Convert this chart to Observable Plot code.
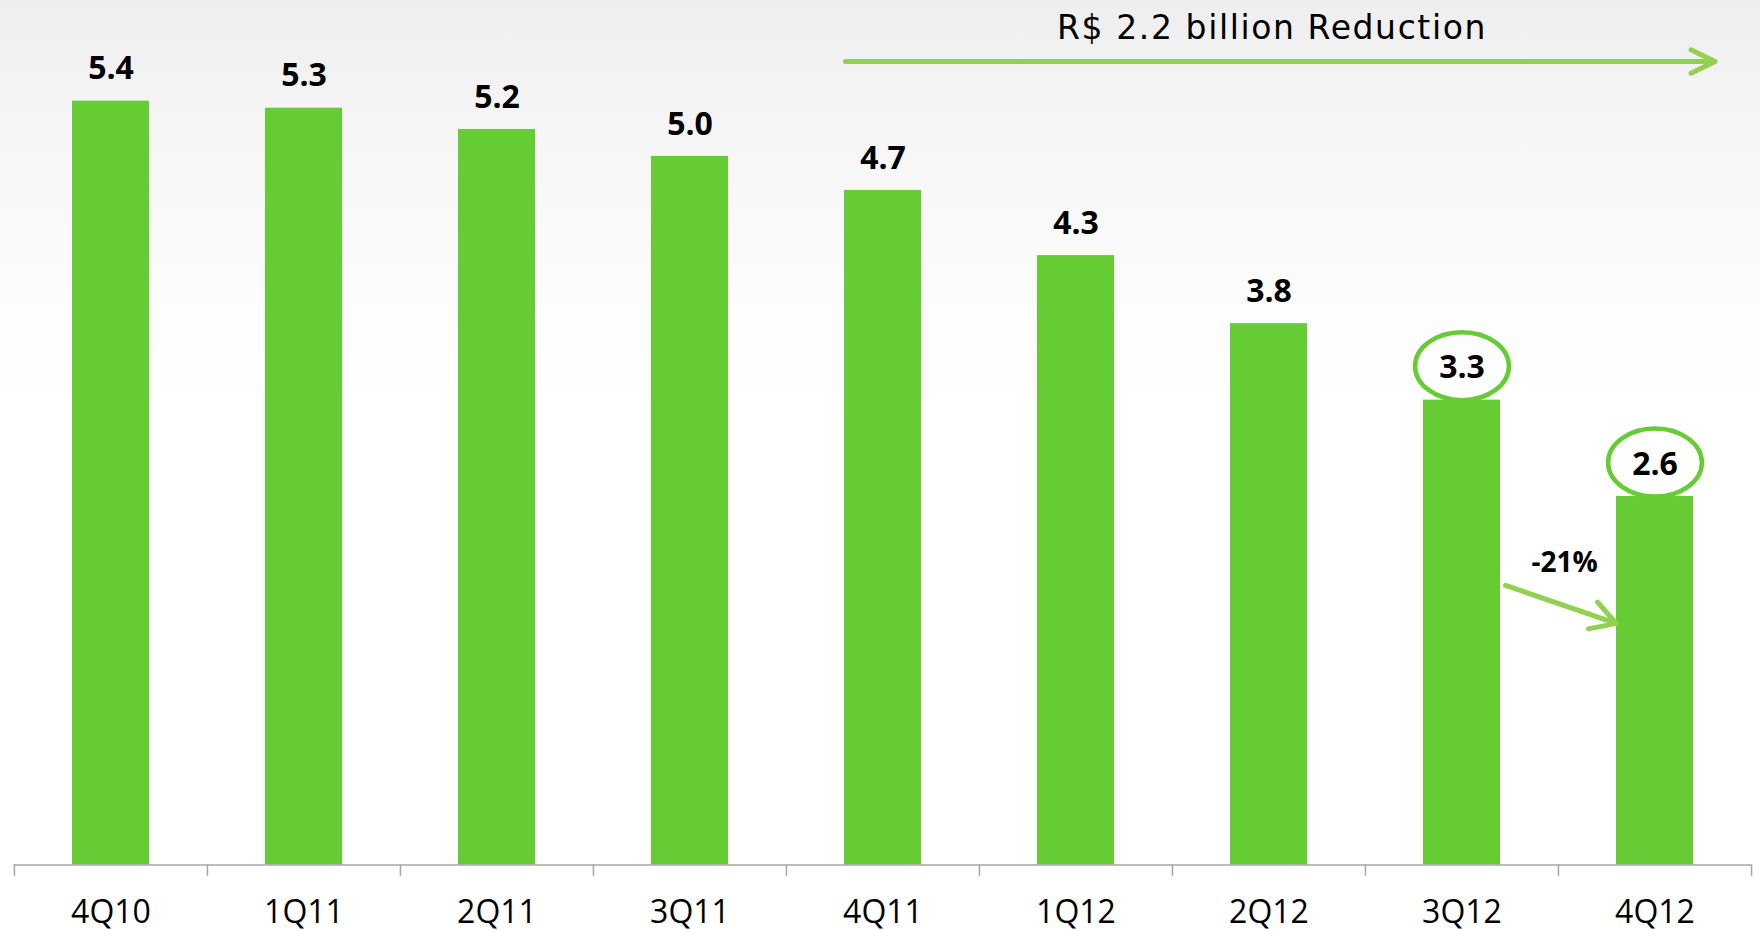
<!DOCTYPE html>
<html><head><meta charset="utf-8">
<script src="https://cdn.jsdelivr.net/npm/d3@7"></script>
<script src="https://cdn.jsdelivr.net/npm/@observablehq/plot@0.6"></script>
<style>
html,body{margin:0;padding:0;width:1760px;height:930px;overflow:hidden;
background:linear-gradient(to bottom,#eeeeee 0px,#f5f5f5 120px,#fdfdfd 330px,#ffffff 420px,#ffffff 100%);}
#chart svg{display:block;background:transparent;}
.reduction-title text{letter-spacing:1.6px;}
</style></head><body><div id="chart"></div>
<script>
// Data
const quarters = ["4Q10","1Q11","2Q11","3Q11","4Q11","1Q12","2Q12","3Q12","4Q12"];
const values = [5.39,5.34,5.19,5.00,4.76,4.30,3.82,3.28,2.60];
const valueLabels = ["5.4","5.3","5.2","5.0","4.7","4.3","3.8","3.3","2.6"];
const highlighted = ["3Q12","4Q12"];
const titleText = "R$ 2.2 billion Reduction";
const changeText = "-21%";

const rows = quarters.map((q, i) => ({q, v: values[i], label: valueLabels[i]}));
const hiRows = rows.filter(d => highlighted.includes(d.q));

const BAR = "#66cc33", ARROW = "#92d050", AXIS = "#a6a6a6";
const FONT = "'Open Sans', sans-serif";

const ellipse = {draw(ctx, size) {
  const ry = Math.sqrt(size / Math.PI), rx = ry * 1.38, k = 0.5523;
  ctx.moveTo(rx, 0);
  ctx.bezierCurveTo(rx, k*ry, k*rx, ry, 0, ry);
  ctx.bezierCurveTo(-k*rx, ry, -rx, k*ry, -rx, 0);
  ctx.bezierCurveTo(-rx, -k*ry, -k*rx, -ry, 0, -ry);
  ctx.bezierCurveTo(k*rx, -ry, rx, -k*ry, rx, 0);
  ctx.closePath();
}};

const W = 1760, H = 930, ML = 13.5, MR = 8.5;
const step = (W - ML - MR) / quarters.length;

const chart = Plot.plot({
  width: W, height: H,
  marginLeft: ML, marginRight: MR, marginTop: 0, marginBottom: 65.5,
  style: {fontFamily: FONT, background: "transparent", overflow: "visible"},
  x: {type: "band", domain: quarters, paddingInner: 0.6, paddingOuter: 0.3, axis: null},
  y: {domain: [0, 6.1], axis: null},
  marks: [
    Plot.barY(rows, {x: "q", y: "v", fill: BAR}),
    Plot.ruleY([0], {stroke: AXIS, strokeWidth: 1.5}),
    Plot.ruleX(quarters, {x: d => d, y1: 0, y2: -0.08, dx: -step/2, stroke: AXIS, strokeWidth: 1.5}),
    Plot.ruleX([quarters[quarters.length-1]], {x: d => d, y1: 0, y2: -0.08, dx: step/2, stroke: AXIS, strokeWidth: 1.5}),
    Plot.text(quarters, {x: d => d, y: 0, dy: 48, text: d => d, fontSize: 32, fill: "#000"}),
    Plot.text(rows, {x: "q", y: "v", text: "label", dy: -32, fontSize: 32, fontWeight: "bold", fill: "#000"}),
    Plot.dot(hiRows, {x: "q", y: "v", dy: -34, r: 34, symbol: ellipse, stroke: BAR, strokeWidth: 4.5, fill: "none"}),
    Plot.arrow([{x1: "4Q11", x2: "4Q12", y: 5.67}], {x1: "x1", x2: "x2", y1: "y", y2: "y",
      insetStart: -37.5, insetEnd: -60, stroke: ARROW, strokeWidth: 5, headLength: 8, headAngle: 52,
      strokeLinecap: "round", strokeLinejoin: "round"}),
    Plot.text([titleText], {x: () => "2Q12", y: () => 5.9, dx: 3, text: d => d, fontSize: 33,
      fontFamily: "'DejaVu Sans', sans-serif", fill: "#000", className: "reduction-title"}),
    Plot.arrow([{x1: "3Q12", y1: 2.078, x2: "4Q12", y2: 1.611}], {x1: "x1", y1: "y1", x2: "x2", y2: "y2",
      insetStart: 46, insetEnd: 41, stroke: ARROW, strokeWidth: 5, headLength: 8.5, headAngle: 60,
      strokeLinecap: "round", strokeLinejoin: "round"}),
    Plot.text([changeText], {x: () => "3Q12", y: () => 2.13, dx: 102.5, text: d => d, fontSize: 28, fontWeight: "bold", fill: "#000"})
  ]
});
document.getElementById("chart").appendChild(chart);
</script></body></html>
